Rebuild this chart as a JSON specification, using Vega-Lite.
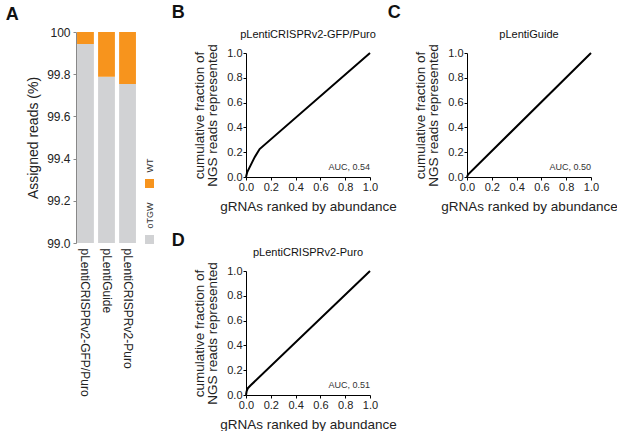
{
  "$schema": "https://vega.github.io/schema/vega-lite/v6.json",
  "description": "Assigned reads and cumulative gRNA read distributions",
  "padding": {"left": 5, "top": 3, "right": 0, "bottom": 0},
  "datasets": {
    "reads": [
      {"vector": "pLentiCRISPRv2-GFP/Puro", "type": "oTGW", "lo": 99.0, "hi": 99.943},
      {"vector": "pLentiCRISPRv2-GFP/Puro", "type": "WT", "lo": 99.943, "hi": 100},
      {"vector": "pLentiGuide", "type": "oTGW", "lo": 99.0, "hi": 99.788},
      {"vector": "pLentiGuide", "type": "WT", "lo": 99.788, "hi": 100},
      {"vector": "pLentiCRISPRv2-Puro", "type": "oTGW", "lo": 99.0, "hi": 99.754},
      {"vector": "pLentiCRISPRv2-Puro", "type": "WT", "lo": 99.754, "hi": 100}
    ],
    "curveB": [
      {"x": 0, "y": 0}, {"x": 0.01, "y": 0.04}, {"x": 0.03, "y": 0.08},
      {"x": 0.07, "y": 0.16}, {"x": 0.11, "y": 0.225}, {"x": 1, "y": 1}
    ],
    "curveC": [
      {"x": 0, "y": 0}, {"x": 0.008, "y": 0.02}, {"x": 1, "y": 1}
    ],
    "curveD": [
      {"x": 0, "y": 0}, {"x": 0.005, "y": 0.03}, {"x": 0.015, "y": 0.055},
      {"x": 0.04, "y": 0.08}, {"x": 1, "y": 1}
    ],
    "aucB": [{"x": 1, "y": 0.04, "label": "AUC, 0.54"}],
    "aucC": [{"x": 1, "y": 0.04, "label": "AUC, 0.50"}],
    "aucD": [{"x": 1, "y": 0.04, "label": "AUC, 0.51"}]
  },
  "spacing": 34,
  "hconcat": [
    {
      "width": 61,
      "height": 190,
      "title": {"text": "A", "anchor": "start", "dx": -21, "offset": 2},
      "data": {"name": "reads"},
      "mark": {"type": "bar"},
      "encoding": {
        "x": {
          "field": "vector",
          "type": "nominal",
          "sort": ["pLentiCRISPRv2-GFP/Puro", "pLentiGuide", "pLentiCRISPRv2-Puro"],
          "scale": {"paddingInner": 0.2, "paddingOuter": 0.05},
          "axis": {"title": null, "labelAngle": 90, "labelFontSize": 12, "domain": false, "ticks": false, "labelPadding": 5}
        },
        "y": {
          "field": "lo",
          "type": "quantitative",
          "scale": {"domain": [99, 100], "zero": false, "nice": false, "range": [190, -21]},
          "axis": {
            "title": "Assigned reads (%)",
            "values": [99, 99.2, 99.4, 99.6, 99.8, 100],
            "labelExpr": "datum.value == 100 ? '100' : format(datum.value, '.1f')",
            "labelOverlap": false,
            "labelFontSize": 12,
            "titleFontSize": 14,
            "domainColor": "#888888",
            "tickColor": "#888888",
            "tickSize": 3,
            "labelPadding": 3,
            "titlePadding": 6
          }
        },
        "y2": {"field": "hi"},
        "color": {
          "field": "type",
          "type": "nominal",
          "scale": {"domain": ["WT", "oTGW"], "range": ["#f7941d", "#d1d2d4"]},
          "legend": {
            "orient": "none",
            "legendX": 69,
            "legendY": 126,
            "title": null,
            "symbolType": "square",
            "symbolSize": 81,
            "symbolStrokeWidth": 0,
            "symbolOpacity": 1,
            "labelFontSize": 9,
            "labelOffset": -4.5,
            "rowPadding": 14,
            "padding": 0,
            "labelColor": "#333333",
            "encode": {"labels": {"update": {"angle": {"value": -90}, "dx": {"value": 11}}}}
          }
        }
      }
    },
    {
      "spacing": 18,
      "vconcat": [
        {
          "spacing": -10,
          "hconcat": [
            {
              "title": {"text": "B", "anchor": "start", "dx": -21, "offset": 7},
              "vconcat": [
                {
                  "title": {"text": "pLentiCRISPRv2-GFP/Puro", "fontSize": 11, "fontWeight": "normal", "offset": 4},
                  "width": 124,
                  "height": 124,
                  "encoding": {
                    "x": {"field": "x", "type": "quantitative", "scale": {"domain": [0, 1], "nice": false}, "axis": {"title": "gRNAs ranked by abundance", "values": [0, 0.2, 0.4, 0.6, 0.8, 1], "format": ".1f", "labelOverlap": false}},
                    "y": {"field": "y", "type": "quantitative", "scale": {"domain": [0, 1], "nice": false}, "axis": {"title": ["cumulative fraction of", "NGS reads represented"], "values": [0, 0.2, 0.4, 0.6, 0.8, 1], "format": ".1f", "labelOverlap": false}}
                  },
                  "layer": [
                    {
                      "data": {"name": "curveB"},
                      "mark": {"type": "line", "color": "black", "strokeWidth": 2}
                    },
                    {
                      "data": {"name": "aucB"},
                      "mark": {"type": "text", "align": "right", "baseline": "bottom", "fontSize": 9, "color": "#333333"},
                      "encoding": {"text": {"field": "label"}}
                    }
                  ]
                }
              ]
            },
            {
              "title": {"text": "C", "anchor": "start", "dx": -26, "offset": 7},
              "vconcat": [
                {
                  "title": {"text": "pLentiGuide", "fontSize": 11, "fontWeight": "normal", "offset": 4},
                  "width": 124,
                  "height": 124,
                  "encoding": {
                    "x": {"field": "x", "type": "quantitative", "scale": {"domain": [0, 1], "nice": false}, "axis": {"title": "gRNAs ranked by abundance", "values": [0, 0.2, 0.4, 0.6, 0.8, 1], "format": ".1f", "labelOverlap": false}},
                    "y": {"field": "y", "type": "quantitative", "scale": {"domain": [0, 1], "nice": false}, "axis": {"title": ["cumulative fraction of", "NGS reads represented"], "values": [0, 0.2, 0.4, 0.6, 0.8, 1], "format": ".1f", "labelOverlap": false}}
                  },
                  "layer": [
                    {
                      "data": {"name": "curveC"},
                      "mark": {"type": "line", "color": "black", "strokeWidth": 2}
                    },
                    {
                      "data": {"name": "aucC"},
                      "mark": {"type": "text", "align": "right", "baseline": "bottom", "fontSize": 9, "color": "#333333"},
                      "encoding": {"text": {"field": "label"}}
                    }
                  ]
                }
              ]
            }
          ]
        },
        {
          "title": {"text": "D", "anchor": "start", "dx": -21, "offset": -3},
          "vconcat": [
            {
              "title": {"text": "pLentiCRISPRv2-Puro", "fontSize": 11, "fontWeight": "normal", "offset": 4},
              "width": 124,
              "height": 124,
              "encoding": {
                "x": {"field": "x", "type": "quantitative", "scale": {"domain": [0, 1], "nice": false}, "axis": {"title": "gRNAs ranked by abundance", "values": [0, 0.2, 0.4, 0.6, 0.8, 1], "format": ".1f", "labelOverlap": false}},
                "y": {"field": "y", "type": "quantitative", "scale": {"domain": [0, 1], "nice": false}, "axis": {"title": ["cumulative fraction of", "NGS reads represented"], "values": [0, 0.2, 0.4, 0.6, 0.8, 1], "format": ".1f", "labelOverlap": false}}
              },
              "layer": [
                {
                  "data": {"name": "curveD"},
                  "mark": {"type": "line", "color": "black", "strokeWidth": 2}
                },
                {
                  "data": {"name": "aucD"},
                  "mark": {"type": "text", "align": "right", "baseline": "bottom", "fontSize": 9, "color": "#333333"},
                  "encoding": {"text": {"field": "label"}}
                }
              ]
            }
          ]
        }
      ]
    }
  ],
  "config": {
    "font": "Liberation Sans",
    "background": "white",
    "view": {"stroke": null},
    "title": {"font": "Liberation Sans", "fontSize": 18, "fontWeight": "bold", "color": "#111111", "baseline": "bottom"},
    "axis": {
      "labelFont": "Liberation Sans",
      "titleFont": "Liberation Sans",
      "titleFontWeight": "normal",
      "labelColor": "#222222",
      "titleColor": "#222222",
      "labelOverlap": false,
      "grid": false
    },
    "axisQuantitative": {
      "labelFontSize": 11,
      "titleFontSize": 13.5,
      "domainColor": "black",
      "tickColor": "black",
      "tickSize": 3,
      "labelPadding": 1,
      "titlePadding": 7,
      "titleLineHeight": 13,
      "labelOverlap": false
    },
    "axisX": {"labelFlush": false},
    "axisY": {"titleFontSize": 13.5, "titlePadding": 8}
  }
}
